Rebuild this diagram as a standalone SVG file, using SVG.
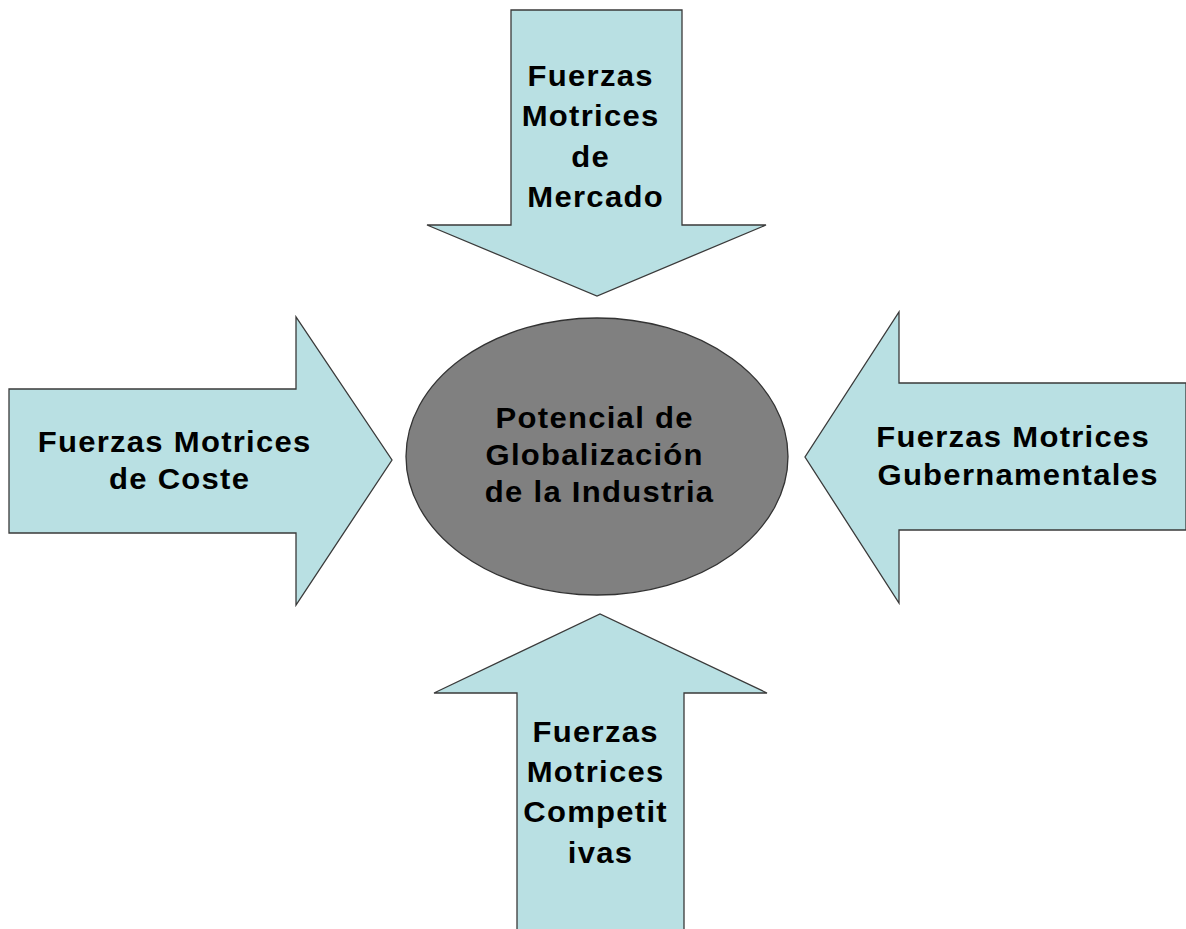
<svg xmlns="http://www.w3.org/2000/svg" width="1186" height="929" viewBox="0 0 1186 929">
  <style>
    .arrow { fill: #b9e0e3; stroke: #3a3a3a; stroke-width: 1.3; stroke-linejoin: miter; }
    .core { fill: #808080; stroke: #333333; stroke-width: 1.3; }
    .label { font-family: "Liberation Sans", Arial, sans-serif; font-weight: bold; font-size: 29px; letter-spacing: 1.2px; fill: #000000; text-anchor: middle; }
  </style>
  <rect width="1186" height="929" fill="#ffffff"/>

  <!-- block arrows pointing at the centre -->
  <g id="forces">
    <g id="fuerzas-mercado">
      <polygon class="arrow" points="511,10 682,10 682,225 766,225 597,296 427,225 511,225"/>
      <text class="label" transform="translate(595.6 0) scale(1.07 1)">
        <tspan x="0" y="86">Fuerzas</tspan>
        <tspan x="0" y="126">Motrices</tspan>
        <tspan x="0" y="167">de</tspan>
        <tspan x="0" y="207">Mercado</tspan>
      </text>
    </g>

    <g id="fuerzas-coste">
      <polygon class="arrow" points="9,389 296,389 296,317 392,460 296,605 296,533 9,533"/>
      <text class="label" transform="translate(179.6 0) scale(1.07 1)">
        <tspan x="0" y="452">Fuerzas Motrices</tspan>
        <tspan x="0" y="489">de Coste</tspan>
      </text>
    </g>

    <g id="fuerzas-gubernamentales">
      <polygon class="arrow" points="1186,383 899,383 899,312 805,457 899,603 899,530 1186,530"/>
      <text class="label" transform="translate(1018.1 0) scale(1.07 1)">
        <tspan x="0" y="447">Fuerzas Motrices</tspan>
        <tspan x="0" y="485">Gubernamentales</tspan>
      </text>
    </g>

    <g id="fuerzas-competitivas">
      <polygon class="arrow" points="517,935 517,693 434,693 600,614 767,693 684,693 684,935"/>
      <text class="label" transform="translate(600.6 0) scale(1.07 1)">
        <tspan x="0" y="742">Fuerzas</tspan>
        <tspan x="0" y="782">Motrices</tspan>
        <tspan x="0" y="822">Competit</tspan>
        <tspan x="0" y="863">ivas</tspan>
      </text>
    </g>
  </g>

  <!-- central node -->
  <g id="potencial-globalizacion">
    <ellipse class="core" cx="597" cy="456.5" rx="191" ry="138.5"/>
    <text class="label" transform="translate(599.6 0) scale(1.07 1)">
      <tspan x="0" y="428">Potencial de</tspan>
      <tspan x="0" y="465">Globalización</tspan>
      <tspan x="0" y="502">de la Industria</tspan>
    </text>
  </g>
</svg>
